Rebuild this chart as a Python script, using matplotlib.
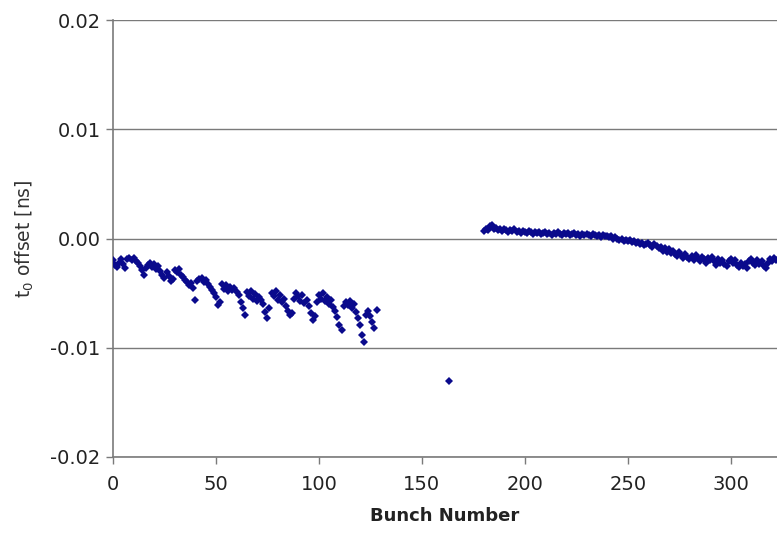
import matplotlib
matplotlib.use("Agg")
import matplotlib.pyplot as plt
import numpy as np

# ---- data ----
left_x = list(range(0, 129))
left_y = [
    -0.0020, -0.0024, -0.0026, -0.0022, -0.0019, -0.0023, -0.0027, -0.0019, -0.0018, -0.0020,
    -0.0018, -0.0021, -0.0022, -0.0025, -0.0029, -0.0033, -0.0027, -0.0024, -0.0022, -0.0026,
    -0.0023, -0.0028, -0.0025, -0.0030, -0.0033, -0.0036, -0.0031, -0.0034, -0.0039, -0.0037,
    -0.0029, -0.0031, -0.0028, -0.0033, -0.0035, -0.0038, -0.0040, -0.0043, -0.0041, -0.0045,
    -0.0056, -0.0039, -0.0037, -0.0036, -0.0040, -0.0038, -0.0042, -0.0044, -0.0047, -0.0050,
    -0.0054, -0.0061, -0.0058, -0.0042, -0.0046, -0.0043, -0.0048, -0.0044, -0.0047, -0.0045,
    -0.0049, -0.0052, -0.0058, -0.0064, -0.0070, -0.0049, -0.0053, -0.0048, -0.0055, -0.0051,
    -0.0057, -0.0054, -0.0056, -0.0060, -0.0067, -0.0073, -0.0064, -0.0050, -0.0053, -0.0048,
    -0.0056, -0.0052, -0.0058, -0.0055, -0.0062, -0.0066, -0.0070, -0.0068, -0.0055, -0.0050,
    -0.0053, -0.0057, -0.0052, -0.0059, -0.0056, -0.0062, -0.0068, -0.0075, -0.0071, -0.0058,
    -0.0052, -0.0055, -0.0050, -0.0057, -0.0054, -0.0060, -0.0056, -0.0063, -0.0066, -0.0072,
    -0.0079, -0.0084, -0.0062, -0.0058, -0.0061, -0.0057, -0.0064, -0.0060, -0.0067, -0.0073,
    -0.0079, -0.0088, -0.0095, -0.0070, -0.0066, -0.0071, -0.0076, -0.0082, -0.0065,
]

outlier_x = [163]
outlier_y = [-0.0130]

right_x = list(range(180, 323))
right_y = [
    0.0007, 0.0009, 0.0008, 0.0011, 0.0012, 0.0009, 0.0010, 0.0008, 0.0009, 0.0007,
    0.0009, 0.0008, 0.0006, 0.0008, 0.0007, 0.0009, 0.0006, 0.0007, 0.0005, 0.0007,
    0.0006, 0.0005, 0.0007, 0.0006, 0.0004, 0.0006, 0.0005, 0.0006, 0.0004, 0.0005,
    0.0006, 0.0004, 0.0005, 0.0003, 0.0005, 0.0004, 0.0006, 0.0004, 0.0003, 0.0005,
    0.0004, 0.0005, 0.0003, 0.0004, 0.0005, 0.0003, 0.0004, 0.0002, 0.0004, 0.0003,
    0.0004, 0.0003, 0.0002, 0.0004, 0.0003, 0.0002, 0.0003, 0.0001, 0.0003, 0.0002,
    0.0002, 0.0001, 0.0002, 0.0000, 0.0001, 0.0000, -0.0001, 0.0000, -0.0002, -0.0001,
    -0.0002, -0.0001, -0.0003, -0.0002, -0.0004, -0.0003, -0.0005, -0.0004, -0.0006, -0.0005,
    -0.0004, -0.0006, -0.0008, -0.0005, -0.0007, -0.0009, -0.0008, -0.0011, -0.0009, -0.0012,
    -0.0010, -0.0013, -0.0011, -0.0014, -0.0016, -0.0012, -0.0015, -0.0018, -0.0014, -0.0017,
    -0.0019, -0.0016, -0.0020, -0.0015, -0.0018, -0.0021, -0.0017, -0.0019, -0.0022, -0.0018,
    -0.0020, -0.0017, -0.0021, -0.0024, -0.0019, -0.0022, -0.0020, -0.0023, -0.0025, -0.0021,
    -0.0019, -0.0022, -0.0020, -0.0024, -0.0026, -0.0022, -0.0025, -0.0023, -0.0027, -0.0021,
    -0.0019, -0.0022, -0.0024, -0.0020, -0.0023, -0.0021, -0.0025, -0.0027, -0.0022, -0.0019,
    -0.0021, -0.0018, -0.0020,
]

x_ticks = [0, 50, 100, 150, 200, 250, 300]
y_ticks = [-0.02, -0.01, 0.00, 0.01, 0.02]
y_tick_labels = ["-0.02", "-0.01", "0.00", "0.01", "0.02"]

# ---- figure ----
fig = plt.figure(figsize=(7.77, 5.38), dpi=100)
ax = fig.add_axes([113 / 777, 1 - 457 / 538, 1 - 113 / 777, (457 - 20) / 538])

color = "#0a0a8c"
for xs, ys in [(left_x, left_y), (outlier_x, outlier_y), (right_x, right_y)]:
    ax.plot(xs, ys, linestyle="none", marker="D", markersize=3.9,
            color=color, markeredgewidth=0, zorder=3)

ax.set_xlim(0, 322.5)
ax.set_ylim(-0.02, 0.02)
ax.set_xticks(x_ticks)
ax.set_yticks(y_ticks)
ax.set_yticklabels(y_tick_labels)

ax.yaxis.grid(True, color="#7a7a7a", linewidth=1.0)
ax.set_axisbelow(True)
for s in ["top", "right"]:
    ax.spines[s].set_visible(False)
for s in ["left", "bottom"]:
    ax.spines[s].set_color("#7a7a7a")
    ax.spines[s].set_linewidth(1.2)

ax.tick_params(axis="both", colors="#7a7a7a", labelcolor="#222222",
               labelsize=14, length=5, width=1.0, direction="out")
ax.tick_params(axis="x", pad=8)
ax.tick_params(axis="y", pad=4)

ax.set_ylabel("t$_0$ offset [ns]", fontsize=13.5, color="#333333", labelpad=10)
ax.set_xlabel("Bunch Number", fontsize=13, fontweight="bold", color="#222222", labelpad=9)

fig.savefig("out.png", dpi=100)
